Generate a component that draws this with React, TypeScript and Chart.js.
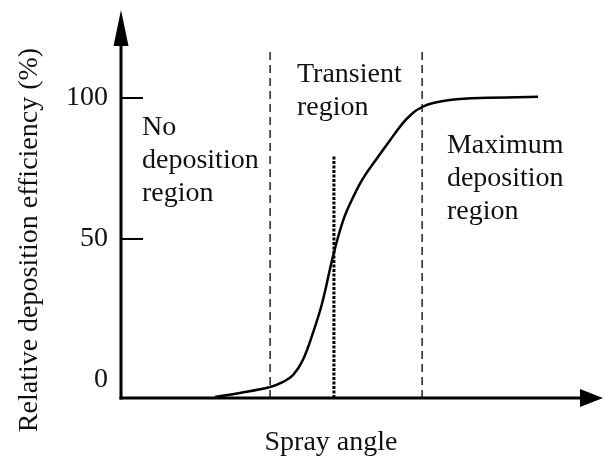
import React, { useEffect, useRef } from "react";
import { Chart, registerables } from "chart.js";

Chart.register(...registerables);

// Curve (x: spray angle in arbitrary units, y: efficiency %)
const curveAngle = [22.4, 28.3, 35.5, 38.6, 41.0, 43.3, 45.7, 47.9, 50.5, 52.9, 55.2, 57.6, 61.0, 64.1, 67.1, 69.5, 71.7, 74.3, 78.3, 85.5, 99.3];
const curveEfficiency = [-6.0, -4.6, -2.5, -0.7, 1.8, 7.1, 16.7, 27.3, 44.0, 56.6, 64.6, 71.4, 78.7, 85.1, 91.1, 94.7, 96.8, 98.2, 99.3, 100.0, 100.4];

const boundaryAngles = [35.5, 71.7];
const boundaryTop = 117;
const optimumAngle = 50.7;
const optimumTop = 79.8;

const yTickValues = [0, 50, 100];
const markedTicks = [50, 100];
const Y_MIN = -6.4;
const Y_MAX = 131.2;

const yAxisTitle = "Relative deposition efficiency (%)";
const xAxisTitle = "Spray angle";
const regionNo = ["No", "deposition", "region"];
const regionTransient = ["Transient", "region"];
const regionMax = ["Maximum", "deposition", "region"];

const FONT = '"Liberation Serif", "Times New Roman", serif';
const TEXT = "#111";

export default function App() {
  const ref = useRef<HTMLCanvasElement>(null);

  useEffect(() => {
    const canvas = ref.current;
    if (!canvas) return;

    const decor = {
      id: "decor",
      afterDraw(chart: any) {
        const { ctx, chartArea: a, scales } = chart;
        const xs = scales.x;
        const ys = scales.y;
        ctx.save();
        ctx.strokeStyle = "#000";
        ctx.fillStyle = "#000";
        const ax = a.left;
        const ay = a.bottom;
        // y axis with arrow
        const topTip = ys.getPixelForValue(Y_MAX);
        ctx.lineWidth = 3;
        ctx.beginPath();
        ctx.moveTo(ax, ay + 1.5);
        ctx.lineTo(ax, topTip + 30);
        ctx.stroke();
        ctx.beginPath();
        ctx.moveTo(ax, topTip);
        ctx.lineTo(ax - 7.5, topTip + 36);
        ctx.lineTo(ax + 7.5, topTip + 36);
        ctx.closePath();
        ctx.fill();
        // x axis with arrow
        const tipX = a.right + 62;
        ctx.beginPath();
        ctx.moveTo(ax - 1.5, ay);
        ctx.lineTo(tipX - 20, ay);
        ctx.stroke();
        ctx.beginPath();
        ctx.moveTo(tipX, ay);
        ctx.lineTo(tipX - 23, ay - 9);
        ctx.lineTo(tipX - 23, ay + 9);
        ctx.closePath();
        ctx.fill();
        // inner tick marks
        ctx.lineWidth = 2;
        markedTicks.forEach((v) => {
          const y = ys.getPixelForValue(v);
          ctx.beginPath();
          ctx.moveTo(ax, y);
          ctx.lineTo(ax + 22, y);
          ctx.stroke();
        });
        // region labels
        ctx.fillStyle = TEXT;
        ctx.font = `28px ${FONT}`;
        ctx.textAlign = "left";
        ctx.textBaseline = "alphabetic";
        const block = (lines: string[], xv: number, yv: number) => {
          const x = xs.getPixelForValue(xv);
          const y0 = ys.getPixelForValue(yv);
          lines.forEach((t, i) => ctx.fillText(t, x, y0 + i * 33));
        };
        block(regionNo, 5.0, 86.9);
        block(regionTransient, 41.9, 105.7);
        block(regionMax, 77.6, 80.5);
        // y axis title
        ctx.save();
        ctx.translate(ax - 84, (ys.top + ys.bottom) / 2 + 36);
        ctx.rotate(-Math.PI / 2);
        ctx.textAlign = "center";
        ctx.fillText(yAxisTitle, 0, 0);
        ctx.restore();
        ctx.restore();
      },
    };

    const line = (pts: { x: number; y: number }[], extra: any) => ({
      data: pts,
      borderColor: "#000",
      pointRadius: 0,
      fill: false,
      ...extra,
    });

    const chart = new Chart(canvas, {
      type: "line",
      data: {
        datasets: [
          line(
            curveAngle.map((x, i) => ({ x, y: curveEfficiency[i] })),
            { borderWidth: 2.5, tension: 0.4 }
          ),
          ...boundaryAngles.map((b) =>
            line(
              [
                { x: b, y: Y_MIN },
                { x: b, y: boundaryTop },
              ],
              { borderWidth: 1.5, borderColor: "#222", borderDash: [8, 5] }
            )
          ),
          line(
            [
              { x: optimumAngle, y: Y_MIN },
              { x: optimumAngle, y: optimumTop },
            ],
            { borderWidth: 3, borderDash: [3, 1.5] }
          ),
        ],
      },
      options: {
        animation: false,
        responsive: true,
        maintainAspectRatio: false,
        layout: { padding: { left: 0, right: 64, top: 10, bottom: 0 } },
        plugins: { legend: { display: false }, tooltip: { enabled: false } },
        scales: {
          x: {
            type: "linear",
            min: 0,
            max: 100,
            ticks: { display: false },
            grid: { display: false, drawTicks: false },
            border: { display: false },
            title: {
              display: true,
              text: xAxisTitle,
              color: TEXT,
              font: { family: FONT, size: 28 },
              padding: { top: 27.4, bottom: 0 },
            },
          },
          y: {
            type: "linear",
            min: Y_MIN,
            max: Y_MAX,
            afterBuildTicks: (s: any) => {
              s.ticks = yTickValues.map((v) => ({ value: v }));
            },
            afterFit: (s: any) => {
              s.width = 121;
              s.paddingTop = 0;
              s.paddingBottom = 0;
            },
            ticks: {
              color: TEXT,
              padding: 13,
              font: { family: FONT, size: 28, lineHeight: 0.5 },
            },
            grid: { display: false, drawTicks: false },
            border: { display: false },
          },
        },
      } as any,
      plugins: [decor],
    });

    return () => chart.destroy();
  }, []);

  return (
    <div style={{ position: "fixed", left: 0, top: 0, width: 605, height: 459, background: "#fff" }}>
      <canvas ref={ref} />
    </div>
  );
}
